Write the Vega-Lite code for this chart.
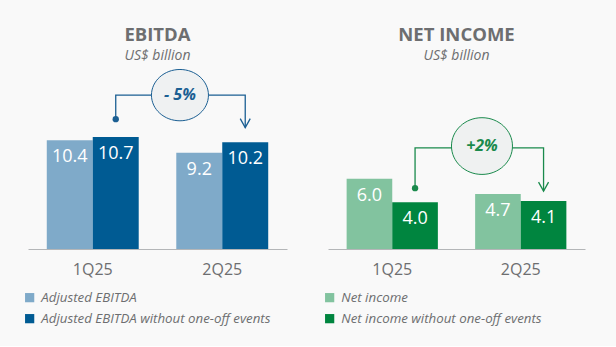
{
  "$schema": "https://vega.github.io/schema/vega-lite/v6.json",
  "background": "#f9f9f9",
  "padding": {"left": 23, "top": 26, "right": 31, "bottom": 21},
  "spacing": 36,
  "config": {
    "view": {"stroke": null},
    "font": "Open Sans",
    "title": {"anchor": "middle", "fontSize": 18.5, "fontWeight": "bold", "color": "#6d6e70", "subtitleFontSize": 14, "subtitleFontStyle": "italic", "subtitleColor": "#6d6e70", "subtitlePadding": 4, "offset": 0.5},
    "axisX": {"title": null, "labelAngle": 0, "ticks": false, "domainColor": "#b4b6b8", "labelFontSize": 16, "labelColor": "#6d6e70", "labelPadding": 12, "grid": false},
    "legend": {"orient": "none", "title": null, "symbolType": "square", "symbolSize": 85, "symbolStrokeWidth": 0, "labelFontSize": 13.3, "labelFontStyle": "italic", "labelColor": "#6d6e70", "rowPadding": 7, "labelOffset": 5, "labelLimit": 400}
  },
  "datasets": {
    "ebitda": [
      {"quarter": "1Q25", "series": "Adjusted EBITDA", "value": 10.4},
      {"quarter": "1Q25", "series": "Adjusted EBITDA without one-off events", "value": 10.7},
      {"quarter": "2Q25", "series": "Adjusted EBITDA", "value": 9.2},
      {"quarter": "2Q25", "series": "Adjusted EBITDA without one-off events", "value": 10.2}
    ],
    "ebitdaArrow": [
      {"quarter": "1Q25", "series": "Adjusted EBITDA without one-off events", "level": 12.4, "step": 1, "kind": "start"},
      {"quarter": "1Q25", "series": "Adjusted EBITDA without one-off events", "level": 14.7, "step": 2, "kind": "corner"},
      {"quarter": "2Q25", "series": "Adjusted EBITDA without one-off events", "level": 14.7, "step": 3, "kind": "corner"},
      {"quarter": "2Q25", "series": "Adjusted EBITDA without one-off events", "level": 11.6, "step": 4, "kind": "end"}
    ],
    "ebitdaBubble": [{"quarter": "2Q25", "level": 14.7, "label": "- 5%"}],
    "net": [
      {"quarter": "1Q25", "series": "Net income", "value": 6.0},
      {"quarter": "1Q25", "series": "Net income without one-off events", "value": 4.0},
      {"quarter": "2Q25", "series": "Net income", "value": 4.7},
      {"quarter": "2Q25", "series": "Net income without one-off events", "value": 4.1}
    ],
    "netArrow": [
      {"quarter": "1Q25", "series": "Net income without one-off events", "level": 5.2, "step": 1, "kind": "start"},
      {"quarter": "1Q25", "series": "Net income without one-off events", "level": 8.65, "step": 2, "kind": "corner"},
      {"quarter": "2Q25", "series": "Net income without one-off events", "level": 8.65, "step": 3, "kind": "corner"},
      {"quarter": "2Q25", "series": "Net income without one-off events", "level": 4.95, "step": 4, "kind": "end"}
    ],
    "netBubble": [{"quarter": "2Q25", "level": 8.8, "label": "+2%"}]
  },
  "hconcat": [
    {
      "width": 259,
      "height": 186,
      "title": {"text": "EBITDA", "subtitle": "US$ billion"},
      "encoding": {
        "x": {"field": "quarter", "type": "nominal", "scale": {"paddingInner": 0.29, "paddingOuter": 0.145}},
        "y": {"type": "quantitative", "scale": {"domain": [0, 17.77]}, "axis": null}
      },
      "layer": [
        {
          "data": {"name": "ebitda"},
          "mark": {"type": "bar"},
          "encoding": {
            "xOffset": {"field": "series"},
            "y": {"field": "value", "type": "quantitative"},
            "color": {"field": "series", "type": "nominal", "scale": {"range": ["#7faac9", "#005b93"]}, "legend": {"legendX": -5, "legendY": 228}}
          }
        },
        {
          "data": {"name": "ebitda"},
          "mark": {"type": "text", "color": "white", "fontSize": 18, "baseline": "middle", "dy": 17},
          "encoding": {
            "xOffset": {"field": "series"},
            "y": {"field": "value", "type": "quantitative"},
            "text": {"field": "value", "type": "quantitative", "format": ".1f"}
          }
        },
        {
          "data": {"name": "ebitdaArrow"},
          "mark": {"type": "line", "color": "#1b5f93", "strokeWidth": 1.3},
          "encoding": {
            "xOffset": {"field": "series"},
            "y": {"field": "level", "type": "quantitative"},
            "order": {"field": "step"}
          }
        },
        {
          "data": {"name": "ebitdaArrow"},
          "transform": [{"filter": "datum.kind == 'start'"}],
          "mark": {"type": "point", "filled": true, "color": "#1b5f93", "size": 40, "opacity": 1},
          "encoding": {
            "xOffset": {"field": "series"},
            "y": {"field": "level", "type": "quantitative"}
          }
        },
        {
          "data": {"name": "ebitdaArrow"},
          "transform": [{"filter": "datum.kind == 'end'"}],
          "mark": {"type": "point", "filled": false, "color": "#1b5f93", "strokeWidth": 1.3, "size": 100, "opacity": 1, "shape": "M-1,-1.8L0,0L1,-1.8"},
          "encoding": {
            "xOffset": {"field": "series"},
            "y": {"field": "level", "type": "quantitative"}
          }
        },
        {
          "data": {"name": "ebitdaBubble"},
          "mark": {"type": "point", "filled": true, "fill": "#eff1f2", "stroke": "#1b5f93", "strokeWidth": 1, "size": 3249, "opacity": 1, "shape": "M-1,0A1,0.9,0,1,1,1,0A1,0.9,0,1,1,-1,0Z"},
          "encoding": {
            "x": {"field": "quarter", "type": "nominal", "bandPosition": 0.04},
            "y": {"field": "level", "type": "quantitative"}
          }
        },
        {
          "data": {"name": "ebitdaBubble"},
          "mark": {"type": "text", "color": "#1b5f93", "fontSize": 16, "fontWeight": "bold", "fontStyle": "italic", "baseline": "middle"},
          "encoding": {
            "x": {"field": "quarter", "type": "nominal", "bandPosition": 0.04},
            "y": {"field": "level", "type": "quantitative"},
            "text": {"field": "label"}
          }
        }
      ]
    },
    {
      "width": 257,
      "height": 186,
      "title": {"text": "NET INCOME", "subtitle": "US$ billion"},
      "encoding": {
        "x": {"field": "quarter", "type": "nominal", "scale": {"paddingInner": 0.29, "paddingOuter": 0.145}},
        "y": {"type": "quantitative", "scale": {"domain": [0, 15.9]}, "axis": null}
      },
      "layer": [
        {
          "data": {"name": "net"},
          "mark": {"type": "bar"},
          "encoding": {
            "xOffset": {"field": "series"},
            "y": {"field": "value", "type": "quantitative"},
            "color": {"field": "series", "type": "nominal", "scale": {"range": ["#82c39f", "#00853f"]}, "legend": {"legendX": -5, "legendY": 228}}
          }
        },
        {
          "data": {"name": "net"},
          "mark": {"type": "text", "color": "white", "fontSize": 18, "baseline": "middle", "dy": 17},
          "encoding": {
            "xOffset": {"field": "series"},
            "y": {"field": "value", "type": "quantitative"},
            "text": {"field": "value", "type": "quantitative", "format": ".1f"}
          }
        },
        {
          "data": {"name": "netArrow"},
          "mark": {"type": "line", "color": "#1a8a4c", "strokeWidth": 1.3},
          "encoding": {
            "xOffset": {"field": "series"},
            "y": {"field": "level", "type": "quantitative"},
            "order": {"field": "step"}
          }
        },
        {
          "data": {"name": "netArrow"},
          "transform": [{"filter": "datum.kind == 'start'"}],
          "mark": {"type": "point", "filled": true, "color": "#1a8a4c", "size": 40, "opacity": 1},
          "encoding": {
            "xOffset": {"field": "series"},
            "y": {"field": "level", "type": "quantitative"}
          }
        },
        {
          "data": {"name": "netArrow"},
          "transform": [{"filter": "datum.kind == 'end'"}],
          "mark": {"type": "point", "filled": false, "color": "#1a8a4c", "strokeWidth": 1.3, "size": 100, "opacity": 1, "shape": "M-1,-1.8L0,0L1,-1.8"},
          "encoding": {
            "xOffset": {"field": "series"},
            "y": {"field": "level", "type": "quantitative"}
          }
        },
        {
          "data": {"name": "netBubble"},
          "mark": {"type": "point", "filled": true, "fill": "#eff1f1", "stroke": "#1a8a4c", "strokeWidth": 1, "size": 3721, "opacity": 1, "shape": "M-1,0A1,0.93,0,1,1,1,0A1,0.93,0,1,1,-1,0Z"},
          "encoding": {
            "x": {"field": "quarter", "type": "nominal", "bandPosition": 0.075},
            "y": {"field": "level", "type": "quantitative"}
          }
        },
        {
          "data": {"name": "netBubble"},
          "mark": {"type": "text", "color": "#1a8a4c", "fontSize": 16, "fontWeight": "bold", "fontStyle": "italic", "baseline": "middle"},
          "encoding": {
            "x": {"field": "quarter", "type": "nominal", "bandPosition": 0.075},
            "y": {"field": "level", "type": "quantitative"},
            "text": {"field": "label"}
          }
        }
      ]
    }
  ],
  "resolve": {"scale": {"color": "independent", "y": "independent", "x": "independent", "xOffset": "independent"}, "legend": {"color": "independent"}}
}
